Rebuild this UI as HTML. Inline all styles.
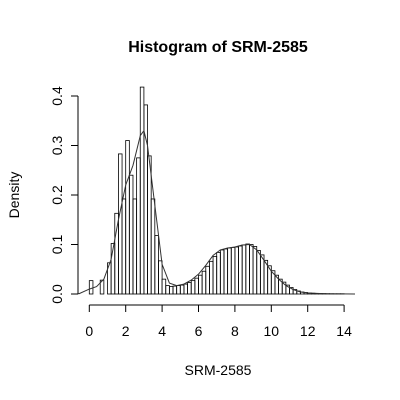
<!DOCTYPE html>
<html><head><meta charset="utf-8"><style>
body{margin:0;background:#fff}
svg{display:block;font-family:"Liberation Sans",sans-serif}
</style></head><body>
<svg id="c" width="400" height="400">
<text x="218" y="52" text-anchor="middle" font-size="16" font-weight="bold">Histogram of SRM-2585</text>
<text x="218" y="375" text-anchor="middle" font-size="14">SRM-2585</text>
<text transform="translate(19,195) rotate(-90)" text-anchor="middle" font-size="14">Density</text>
<g id="bars"></g>
<g id="axes"></g>
</svg>
<script>
const binStart = 0;
const binWidth = 0.2;
const densities = [.027,0,0,.028,0,.063,.102,.163,.283,.192,.31,.240,.192,.275,.418,.382,.279,.192,.118,.067,.030,.017,.015,
.016,.017,.018,.02,.023,.027,.032,.038,.046,.056,.066,.076,.084,.089,.091,.093,.094,.095,.097,.099,.101,.100,.096,.088,.079,.068,.057,.047,.038,.030,.024,.018,.013,.009,.006,.004,.003,.002,.0015,.001,.001,.0008,.0007,.0006,.0005,.0005,.0005];
const curveX = [-0.6,0,0.4,0.8,1.2,1.6,2.0,2.4,2.8,3.0,3.2,3.6,4.0,4.4,4.8,5.2,5.6,6.0,6.4,6.8,7.2,7.6,8.0,8.4,8.8,9.2,9.6,10.0,10.4,10.8,11.2,11.6,12,13,14.6];
const curveY = [0,.01,.015,.03,.07,.15,.22,.26,.32,.33,.30,.18,.06,.022,.017,.02,.028,.04,.058,.078,.089,.093,.095,.099,.1,.089,.068,.046,.03,.017,.009,.004,.002,.0005,0];
const xTicks = [0,2,4,6,8,10,12,14];
const yTicks = [0,0.1,0.2,0.3,0.4];
const yTickLabels = ["0.0","0.1","0.2","0.3","0.4"];
const X = v => 89.3 + v*18.2;
const Y = v => 294 - v*495;
const NS = "http://www.w3.org/2000/svg";
const bars = document.getElementById('bars'), axes = document.getElementById('axes');
function mk(tag, attrs, parent){const e=document.createElementNS(NS,tag);for(const k in attrs)e.setAttribute(k,attrs[k]);parent.appendChild(e);return e;}
densities.forEach((d,i)=>{
  const x0 = X(binStart+i*binWidth), x1 = X(binStart+(i+1)*binWidth);
  const r = mk('rect',{x:x0,y:Y(d),width:x1-x0,height:294-Y(d),fill:'none',stroke:'#000','stroke-width':0.8},bars);
  
  
});
const p = mk('path',{d:curveX.map((x,i)=>(i?'L':'M')+X(x).toFixed(1)+','+Y(curveY[i]).toFixed(1)).join(' '),fill:'none',stroke:'#333','stroke-width':1},bars);


mk('line',{x1:X(xTicks[0]),x2:X(xTicks[xTicks.length-1]),y1:305,y2:305,stroke:'#000'},axes);
xTicks.forEach(t=>{
  mk('line',{x1:X(t),x2:X(t),y1:305,y2:312,stroke:'#000'},axes);
  const tx = mk('text',{x:X(t),y:336,'text-anchor':'middle','font-size':14},axes);
  tx.textContent = t;
  
  
});
mk('line',{x1:78,x2:78,y1:Y(yTicks[0]),y2:Y(yTicks[yTicks.length-1]),stroke:'#000'},axes);
yTicks.forEach((t,i)=>{
  mk('line',{x1:71,x2:78,y1:Y(t),y2:Y(t),stroke:'#000'},axes);
  const tx = mk('text',{transform:`translate(62,${Y(t)}) rotate(-90)`,'text-anchor':'middle','font-size':14},axes);
  tx.textContent = yTickLabels[i];
  
  
});
</script>
</body></html>
